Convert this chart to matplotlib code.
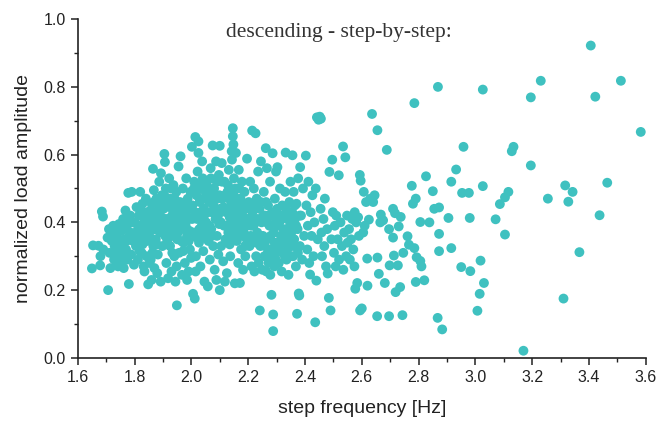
import matplotlib
matplotlib.use("Agg")
import matplotlib.pyplot as plt
from matplotlib.ticker import MultipleLocator

# (step frequency [Hz], normalized load amplitude)
band_160_180 = [
    (1.650, 0.264), (1.654, 0.332), (1.673, 0.331), (1.679, 0.273), (1.685, 0.432),
    (1.689, 0.417), (1.680, 0.300), (1.690, 0.320), (1.707, 0.200),
    (1.705, 0.355), (1.710, 0.380), (1.712, 0.310), (1.715, 0.265), (1.720, 0.345),
    (1.725, 0.390), (1.728, 0.290), (1.730, 0.330), (1.735, 0.370), (1.738, 0.280),
    (1.740, 0.355), (1.745, 0.395), (1.748, 0.310), (1.742, 0.270),
    (1.752, 0.340), (1.755, 0.375), (1.758, 0.300), (1.760, 0.410), (1.762, 0.265),
    (1.765, 0.350), (1.768, 0.435), (1.770, 0.320), (1.772, 0.385), (1.775, 0.290),
    (1.778, 0.487), (1.780, 0.218), (1.782, 0.360), (1.785, 0.420), (1.788, 0.305),
    (1.790, 0.490), (1.795, 0.345), (1.798, 0.275),
]

band_180_200 = [
    (1.802, 0.400), (1.805, 0.330), (1.807, 0.445), (1.810, 0.365), (1.812, 0.290),
    (1.815, 0.420), (1.818, 0.345), (1.820, 0.490), (1.822, 0.390), (1.825, 0.310),
    (1.828, 0.455), (1.830, 0.370), (1.832, 0.270), (1.835, 0.410), (1.838, 0.350),
    (1.840, 0.470), (1.842, 0.300), (1.845, 0.385), (1.848, 0.217), (1.845, 0.430),
    (1.835, 0.255), (1.828, 0.335),
    (1.852, 0.360), (1.855, 0.410), (1.857, 0.290), (1.860, 0.455), (1.862, 0.380),
    (1.865, 0.558), (1.866, 0.330), (1.868, 0.495), (1.870, 0.265), (1.872, 0.420),
    (1.875, 0.350), (1.877, 0.470), (1.880, 0.390), (1.882, 0.305), (1.885, 0.440),
    (1.887, 0.520), (1.890, 0.370), (1.892, 0.225), (1.895, 0.415), (1.896, 0.480),
    (1.898, 0.330), (1.880, 0.250), (1.860, 0.230), (1.875, 0.400), (1.893, 0.545),
    (1.858, 0.345),
    (1.902, 0.440), (1.905, 0.602), (1.907, 0.578), (1.908, 0.360), (1.910, 0.500),
    (1.912, 0.280), (1.914, 0.410), (1.916, 0.460), (1.918, 0.235), (1.920, 0.390),
    (1.922, 0.530), (1.925, 0.330), (1.927, 0.470), (1.930, 0.255), (1.932, 0.420),
    (1.935, 0.370), (1.937, 0.510), (1.940, 0.300), (1.942, 0.445), (1.945, 0.390),
    (1.947, 0.490), (1.949, 0.155), (1.950, 0.350), (1.948, 0.270), (1.923, 0.445),
    (1.938, 0.400), (1.915, 0.345), (1.944, 0.225),
    (1.952, 0.420), (1.955, 0.565), (1.957, 0.310), (1.960, 0.460), (1.962, 0.595),
    (1.964, 0.380), (1.967, 0.245), (1.970, 0.500), (1.972, 0.340), (1.975, 0.430),
    (1.977, 0.280), (1.980, 0.390), (1.982, 0.530), (1.985, 0.360), (1.987, 0.470),
    (1.990, 0.255), (1.992, 0.410), (1.995, 0.320), (1.997, 0.490), (1.999, 0.295),
    (1.985, 0.230), (1.965, 0.345), (1.975, 0.400), (1.993, 0.375),
]

band_200_220 = [
    (2.002, 0.623), (2.004, 0.450), (2.006, 0.189), (2.008, 0.370), (2.010, 0.520),
    (2.012, 0.175), (2.014, 0.652), (2.016, 0.300), (2.018, 0.480), (2.020, 0.410),
    (2.022, 0.550), (2.025, 0.639), (2.025, 0.605), (2.027, 0.340), (2.030, 0.460),
    (2.032, 0.270), (2.035, 0.500), (2.037, 0.390), (2.040, 0.530), (2.042, 0.315),
    (2.044, 0.440), (2.046, 0.225), (2.048, 0.365), (2.050, 0.490), (2.038, 0.580),
    (2.015, 0.255), (2.045, 0.420), (2.028, 0.380),
    (2.052, 0.400), (2.055, 0.520), (2.058, 0.211), (2.060, 0.345), (2.062, 0.460),
    (2.065, 0.290), (2.068, 0.560), (2.070, 0.380), (2.072, 0.430), (2.075, 0.627),
    (2.077, 0.330), (2.080, 0.500), (2.082, 0.260), (2.085, 0.410), (2.087, 0.580),
    (2.090, 0.360), (2.092, 0.470), (2.095, 0.305), (2.097, 0.540), (2.100, 0.626),
    (2.100, 0.200), (2.098, 0.395), (2.063, 0.500), (2.078, 0.450), (2.088, 0.230),
    (2.055, 0.370),
    (2.102, 0.440), (2.105, 0.330), (2.107, 0.575), (2.110, 0.470), (2.112, 0.285),
    (2.115, 0.390), (2.117, 0.520), (2.120, 0.350), (2.122, 0.430), (2.125, 0.250),
    (2.127, 0.490), (2.130, 0.370), (2.132, 0.555), (2.135, 0.415), (2.137, 0.300),
    (2.140, 0.460), (2.142, 0.610), (2.144, 0.360), (2.146, 0.678), (2.146, 0.654),
    (2.148, 0.630), (2.150, 0.530), (2.143, 0.585), (2.128, 0.440), (2.118, 0.225),
    (2.135, 0.335),
    (2.152, 0.400), (2.153, 0.220), (2.155, 0.500), (2.157, 0.605), (2.160, 0.345),
    (2.162, 0.450), (2.165, 0.280), (2.167, 0.555), (2.170, 0.390), (2.171, 0.221),
    (2.173, 0.470), (2.175, 0.320), (2.178, 0.520), (2.180, 0.420), (2.182, 0.260),
    (2.185, 0.370), (2.187, 0.490), (2.190, 0.300), (2.192, 0.440), (2.195, 0.350),
    (2.196, 0.588), (2.198, 0.410), (2.176, 0.430), (2.160, 0.375),
]

band_220_240 = [
    (2.202, 0.460), (2.205, 0.330), (2.207, 0.520), (2.210, 0.390), (2.212, 0.270),
    (2.214, 0.671), (2.215, 0.430), (2.218, 0.350), (2.220, 0.500), (2.222, 0.255),
    (2.225, 0.410), (2.226, 0.663), (2.228, 0.300), (2.230, 0.470), (2.232, 0.370),
    (2.235, 0.550), (2.237, 0.280), (2.240, 0.440), (2.241, 0.140), (2.243, 0.330),
    (2.245, 0.580), (2.247, 0.400), (2.250, 0.260), (2.233, 0.450),
    (2.252, 0.360), (2.255, 0.490), (2.257, 0.300), (2.260, 0.420), (2.262, 0.619),
    (2.264, 0.255), (2.266, 0.560), (2.268, 0.350), (2.270, 0.450), (2.272, 0.280),
    (2.275, 0.390), (2.277, 0.520), (2.280, 0.320), (2.282, 0.186), (2.284, 0.430),
    (2.286, 0.604), (2.288, 0.128), (2.288, 0.079), (2.290, 0.370), (2.292, 0.270),
    (2.294, 0.470), (2.296, 0.400), (2.298, 0.550), (2.299, 0.310), (2.278, 0.245),
    (2.265, 0.400),
    (2.302, 0.440), (2.303, 0.563), (2.305, 0.340), (2.308, 0.280), (2.310, 0.400),
    (2.312, 0.500), (2.315, 0.360), (2.318, 0.255), (2.320, 0.450), (2.322, 0.310),
    (2.325, 0.420), (2.328, 0.370), (2.330, 0.490), (2.332, 0.606), (2.335, 0.290),
    (2.337, 0.410), (2.340, 0.345), (2.342, 0.245), (2.345, 0.460), (2.347, 0.390),
    (2.349, 0.520), (2.338, 0.320),
    (2.352, 0.370), (2.355, 0.430), (2.356, 0.598), (2.358, 0.300), (2.360, 0.490),
    (2.362, 0.350), (2.365, 0.410), (2.368, 0.270), (2.370, 0.455), (2.372, 0.130),
    (2.374, 0.380), (2.376, 0.530), (2.378, 0.190), (2.380, 0.184), (2.382, 0.330),
    (2.383, 0.563), (2.386, 0.420), (2.390, 0.290), (2.393, 0.500), (2.397, 0.360),
]

# extra points where the cloud is solid in the picture
band_core = [
    (1.718, 0.360), (1.732, 0.305), (1.744, 0.335), (1.756, 0.320), (1.763, 0.390),
    (1.772, 0.345), (1.786, 0.370), (1.793, 0.400), (1.776, 0.410), (1.752, 0.285),
    (1.803, 0.355), (1.812, 0.380), (1.818, 0.315), (1.826, 0.430), (1.834, 0.390),
    (1.843, 0.345), (1.851, 0.390), (1.856, 0.435), (1.863, 0.310), (1.871, 0.380),
    (1.878, 0.335), (1.884, 0.415), (1.889, 0.460), (1.897, 0.390), (1.853, 0.280),
    (1.868, 0.460),
    (1.904, 0.410), (1.909, 0.475), (1.913, 0.385), (1.921, 0.355), (1.928, 0.500),
    (1.933, 0.310), (1.941, 0.470), (1.946, 0.420), (1.953, 0.370), (1.958, 0.440),
    (1.966, 0.410), (1.971, 0.315), (1.978, 0.455), (1.983, 0.420), (1.991, 0.345),
    (1.996, 0.440),
    (2.003, 0.410), (2.009, 0.500), (2.013, 0.430), (2.019, 0.355), (2.023, 0.510),
    (2.029, 0.470), (2.033, 0.430), (2.039, 0.355), (2.043, 0.510), (2.049, 0.400),
    (2.053, 0.470), (2.059, 0.430), (2.064, 0.390), (2.069, 0.530), (2.073, 0.360),
    (2.079, 0.480), (2.083, 0.440), (2.089, 0.520), (2.094, 0.420), (2.099, 0.480),
    (2.104, 0.400), (2.108, 0.520), (2.113, 0.445), (2.119, 0.480), (2.124, 0.390),
    (2.129, 0.510), (2.134, 0.470), (2.139, 0.390), (2.145, 0.440), (2.149, 0.480),
    (2.154, 0.430), (2.159, 0.470), (2.164, 0.415), (2.169, 0.500), (2.174, 0.360),
    (2.179, 0.450), (2.184, 0.410), (2.189, 0.330), (2.194, 0.390), (2.199, 0.450),
    (2.204, 0.410), (2.209, 0.360), (2.213, 0.440), (2.219, 0.390), (2.224, 0.450),
    (2.229, 0.340), (2.234, 0.410), (2.239, 0.360), (2.244, 0.460), (2.249, 0.340),
    (2.254, 0.420), (2.259, 0.330), (2.263, 0.460), (2.269, 0.310), (2.274, 0.420),
    (2.279, 0.360), (2.283, 0.290), (2.289, 0.420), (2.293, 0.340), (2.297, 0.290),
    (2.304, 0.390), (2.309, 0.320), (2.314, 0.420), (2.319, 0.340), (2.324, 0.380),
    (2.329, 0.300), (2.334, 0.440), (2.339, 0.370), (2.344, 0.410), (2.348, 0.300),
    (2.354, 0.400), (2.359, 0.330), (2.364, 0.450), (2.369, 0.390), (2.375, 0.310),
    (2.381, 0.420),
]

band_240_280 = [
    (2.403, 0.597), (2.405, 0.450), (2.408, 0.320), (2.410, 0.390), (2.412, 0.520),
    (2.415, 0.280), (2.418, 0.246), (2.420, 0.430), (2.423, 0.360), (2.426, 0.480),
    (2.430, 0.300), (2.433, 0.400), (2.436, 0.105), (2.438, 0.500), (2.440, 0.228),
    (2.442, 0.710), (2.445, 0.350), (2.448, 0.703),
    (2.452, 0.712), (2.456, 0.706), (2.455, 0.440), (2.458, 0.370), (2.460, 0.300),
    (2.465, 0.410), (2.468, 0.330), (2.470, 0.470), (2.474, 0.270), (2.478, 0.380),
    (2.480, 0.249), (2.484, 0.177), (2.486, 0.549), (2.490, 0.140), (2.493, 0.350),
    (2.496, 0.585), (2.498, 0.430),
    (2.502, 0.310), (2.505, 0.390), (2.508, 0.270), (2.510, 0.420), (2.515, 0.350),
    (2.519, 0.539), (2.520, 0.290), (2.525, 0.400), (2.530, 0.330), (2.534, 0.624),
    (2.535, 0.260), (2.538, 0.370), (2.542, 0.592), (2.545, 0.300), (2.548, 0.420),
    (2.550, 0.340),
    (2.555, 0.380), (2.558, 0.290), (2.562, 0.350), (2.566, 0.410), (2.570, 0.320),
    (2.574, 0.270), (2.577, 0.204), (2.580, 0.400), (2.584, 0.221), (2.587, 0.415),
    (2.575, 0.430), (2.590, 0.360), (2.593, 0.540), (2.596, 0.523), (2.600, 0.146),
    (2.594, 0.140),
    (2.607, 0.490), (2.605, 0.370), (2.610, 0.390), (2.615, 0.460), (2.619, 0.293),
    (2.620, 0.213), (2.625, 0.408), (2.630, 0.470), (2.636, 0.720), (2.640, 0.460),
    (2.645, 0.480), (2.654, 0.123), (2.655, 0.296), (2.655, 0.672), (2.660, 0.248),
    (2.665, 0.400), (2.667, 0.423), (2.675, 0.406), (2.681, 0.221), (2.688, 0.614),
    (2.696, 0.123), (2.698, 0.273), (2.696, 0.380), (2.710, 0.440), (2.710, 0.355),
    (2.713, 0.302), (2.717, 0.427), (2.719, 0.194), (2.727, 0.273), (2.730, 0.388),
    (2.735, 0.209), (2.737, 0.416), (2.743, 0.126), (2.746, 0.310), (2.761, 0.359),
    (2.766, 0.334), (2.776, 0.508), (2.780, 0.455), (2.790, 0.470), (2.785, 0.324),
    (2.793, 0.297), (2.790, 0.224), (2.785, 0.752),
]

band_280_360 = [
    (2.806, 0.286), (2.810, 0.270), (2.820, 0.229), (2.806, 0.401), (2.826, 0.536),
    (2.838, 0.400), (2.850, 0.492), (2.855, 0.440), (2.872, 0.444), (2.872, 0.366),
    (2.872, 0.315), (2.867, 0.118), (2.883, 0.084), (2.868, 0.800), (2.905, 0.413),
    (2.915, 0.520), (2.915, 0.324), (2.932, 0.556), (2.950, 0.268), (2.953, 0.487),
    (2.958, 0.623), (2.977, 0.487), (2.980, 0.413), (2.982, 0.256), (3.007, 0.139),
    (3.015, 0.189), (3.018, 0.287), (3.026, 0.507), (3.026, 0.792), (3.030, 0.221),
    (3.071, 0.409), (3.086, 0.454), (3.104, 0.474), (3.104, 0.364), (3.116, 0.490),
    (3.128, 0.610), (3.134, 0.623), (3.169, 0.021), (3.195, 0.769), (3.195, 0.568),
    (3.230, 0.818), (3.255, 0.470), (3.310, 0.175), (3.316, 0.509), (3.327, 0.461),
    (3.342, 0.490), (3.366, 0.312), (3.406, 0.922), (3.422, 0.771), (3.437, 0.421),
    (3.464, 0.517), (3.512, 0.818), (3.582, 0.667),
]

all_points = (band_160_180 + band_180_200 + band_200_220 + band_220_240
              + band_core + band_240_280 + band_280_360)
freq = [p[0] for p in all_points]
amp = [p[1] for p in all_points]

fig = plt.figure(figsize=(6.7, 4.25), dpi=100)
ax = fig.add_axes([0.116, 0.158, 0.848, 0.797])

ax.scatter(freq, amp, s=50, color="#3fc1c0", edgecolors="none", zorder=3)

ax.set_xlim(1.6, 3.6)
ax.set_ylim(0.0, 1.0)
ax.xaxis.set_major_locator(MultipleLocator(0.2))
ax.xaxis.set_minor_locator(MultipleLocator(0.1))
ax.yaxis.set_major_locator(MultipleLocator(0.2))
ax.yaxis.set_minor_locator(MultipleLocator(0.1))
ax.xaxis.set_major_formatter(matplotlib.ticker.FormatStrFormatter("%.1f"))
ax.yaxis.set_major_formatter(matplotlib.ticker.FormatStrFormatter("%.1f"))

for side in ["top", "right"]:
    ax.spines[side].set_visible(False)
for side in ["left", "bottom"]:
    ax.spines[side].set_linewidth(1.2)
    ax.spines[side].set_color("#222222")

ax.tick_params(which="major", direction="out", length=5, width=1.1,
               labelsize=11.5, colors="#222222")
ax.tick_params(which="minor", direction="out", length=3, width=1.0, colors="#222222")
for lab in ax.get_xticklabels() + ax.get_yticklabels():
    lab.set_family("Liberation Sans")

ax.set_xlabel("step frequency [Hz]", fontsize=14, family="Liberation Sans",
              color="#222222", labelpad=11)
ax.set_ylabel("normalized load amplitude", fontsize=14, family="Liberation Sans",
              color="#222222", labelpad=8)

ax.text(0.46, 0.96, "descending - step-by-step:", transform=ax.transAxes,
        ha="center", va="center", fontsize=15.5, family="Liberation Serif", color="#333333")

fig.savefig("out.png", dpi=100)
